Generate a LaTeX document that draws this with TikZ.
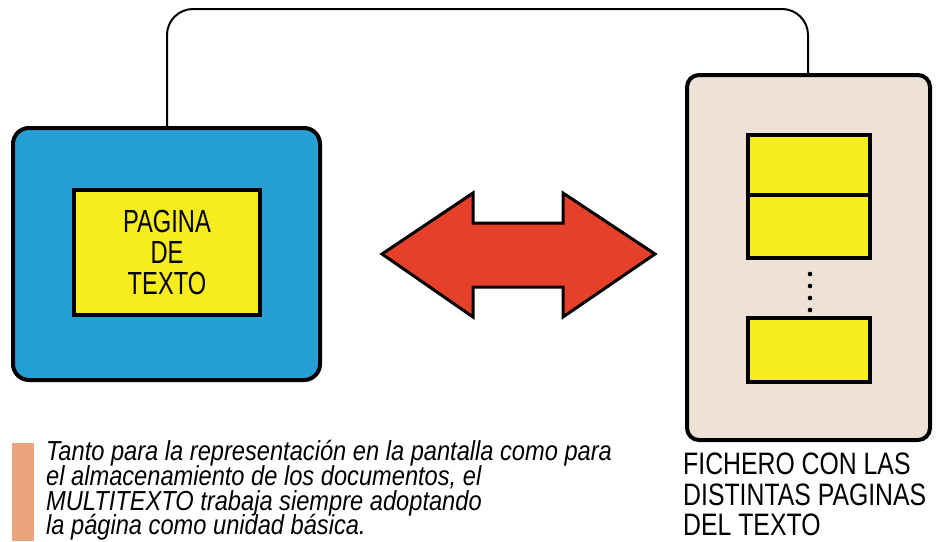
\documentclass[tikz,border=0pt]{standalone}
\usepackage{fontspec}
\setmainfont{Liberation Sans}
\newfontfamily\condsans[FakeStretch=0.74]{Liberation Sans}
\newfontfamily\capsans[FakeStretch=0.80]{Liberation Sans}
\newfontfamily\itsans[FakeStretch=0.86]{Liberation Sans}
\definecolor{scrblue}{RGB}{38,160,212}
\definecolor{pageyellow}{RGB}{247,236,30}
\definecolor{filebeige}{RGB}{238,226,214}
\definecolor{arrowred}{RGB}{230,64,42}
\definecolor{barorange}{RGB}{234,162,122}
\tikzset{
  screenbox/.style={draw=black, line width=4pt, fill=scrblue, rounded corners=16pt, inner sep=0pt},
  filebox/.style={draw=black, line width=4pt, fill=filebeige, rounded corners=12pt, inner sep=0pt},
  pagebox/.style={draw=black, line width=3.5pt, fill=pageyellow, inner sep=0pt},
  link/.style={draw=black, line width=2pt, rounded corners=26pt},
  captionline/.style={anchor=base west, inner sep=0pt, font=\itsans\itshape\fontsize{27.5}{26}\selectfont},
  fileline/.style={anchor=base west, inner sep=0pt, font=\capsans\fontsize{31}{31}\selectfont},
}
\begin{document}
\begin{tikzpicture}[x=1pt,y=-1pt]
\useasboundingbox (0,0) rectangle (939,541);
% monitor
\node[screenbox, minimum width=307pt, minimum height=252pt] (monitor) at (166.5,254) {};
\node[pagebox, minimum width=186pt, minimum height=125pt, align=center,
      font=\condsans\fontsize{32}{31}\selectfont] (page) at (167,252.5) {PAGINA\\DE\\TEXTO};
% file panel
\node[filebox, minimum width=243pt, minimum height=365pt] (panel) at (808.5,257.5) {};
\node[pagebox, minimum width=122pt, minimum height=60pt] (p1) at (809,165) {};
\node[pagebox, minimum width=122pt, minimum height=63pt] (p2) at (809,226.5) {};
\node[pagebox, minimum width=122pt, minimum height=64pt] (p3) at (809,350) {};
\foreach \yy in {274,286,298,310} \fill (810,\yy) circle (2.3pt);
% connector
\coordinate (c1) at (167,9);
\coordinate (c2) at (808,9);
\draw[link] (monitor.north -| c1) -- (c1) -- (c2) -- (panel.north -| c2);
% double arrow
\draw[line width=3pt, fill=arrowred, line join=miter]
  (382,254) -- (473,193) -- (473,223) -- (563,223) -- (563,193) -- (655,254)
  -- (563,317) -- (563,287) -- (473,287) -- (473,317) -- cycle;
% caption
\fill[barorange] (12,443) rectangle (34,541);
\node[captionline] (t1) at (46,460) {Tanto para la representación en la pantalla como para};
\node[captionline] (t2) at (46,485) {el almacenamiento de los documentos, el};
\node[captionline] (t3) at (46,510) {MULTITEXTO trabaja siempre adoptando};
\node[captionline] (t4) at (46,534) {la página como unidad básica.};
% file caption
\node[fileline] (f1) at (683,474) {FICHERO CON LAS};
\node[fileline] (f2) at (683,505) {DISTINTAS PAGINAS};
\node[fileline] (f3) at (683,535) {DEL TEXTO};
\end{tikzpicture}
\end{document}
